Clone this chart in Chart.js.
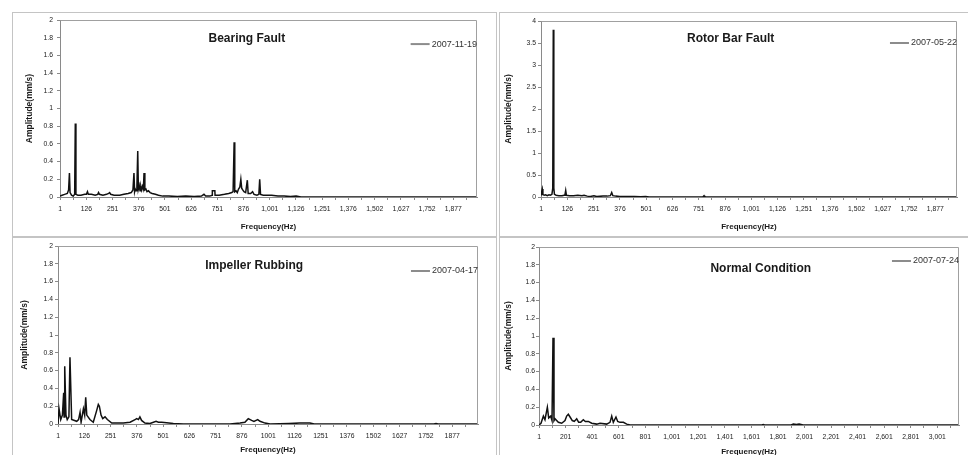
<!DOCTYPE html>
<html>
<head>
<meta charset="utf-8">
<script src="https://cdn.jsdelivr.net/npm/chart.js@4.4.1/dist/chart.umd.min.js"></script>
<style>
    html, body { margin: 0; padding: 0; background: #fff; }
    body { width: 968px; height: 455px; position: relative; overflow: hidden; }
    canvas { position: absolute; }
</style>
</head>
<body>
<canvas id="bearing"></canvas>
<canvas id="rotor"></canvas>
<canvas id="impeller"></canvas>
<canvas id="normal"></canvas>
<script>
//
// Spectrum data (frequency in Hz, amplitude in mm/s)
//

const bearingFreq = [0, 10, 22, 35, 41, 45, 48, 55, 63, 70, 73, 76, 85, 100, 118, 126, 131, 135, 150, 168,
    180, 184, 188, 205, 222, 232, 237, 242, 258, 285, 305, 325, 340, 348, 353, 356, 359, 363, 367, 371,
    374, 378, 382, 386, 390, 394, 398, 401, 405, 410, 415, 422, 430, 440, 455, 470, 490, 520, 560, 600,
    640, 675, 687, 695, 715, 726, 727, 739, 740, 760, 785, 805, 820, 826, 831, 834, 840, 846, 852, 858,
    863, 867, 872, 878, 886, 894, 898, 910, 919, 926, 940, 949, 953, 957, 970, 990, 1010, 1040, 1070, 1100,
    1127, 1150, 1990];
const bearingAmp = [0.01, 0.02, 0.03, 0.04, 0.08, 0.27, 0.05, 0.02, 0.01, 0.03, 0.83, 0.03, 0.02, 0.02, 0.03, 0.03, 0.06, 0.03, 0.03, 0.02,
    0.03, 0.05, 0.03, 0.02, 0.03, 0.04, 0.05, 0.03, 0.02, 0.02, 0.03, 0.04, 0.05, 0.08, 0.27, 0.06, 0.09, 0.07, 0.11, 0.52,
    0.09, 0.13, 0.07, 0.12, 0.08, 0.12, 0.09, 0.27, 0.08, 0.09, 0.06, 0.07, 0.05, 0.04, 0.03, 0.02, 0.01, 0.01, 0.005, 0.01,
    0.005, 0.01, 0.03, 0.01, 0.01, 0.02, 0.07, 0.07, 0.02, 0.02, 0.03, 0.04, 0.05, 0.06, 0.62, 0.06, 0.07, 0.05, 0.09, 0.11,
    0.2, 0.1, 0.08, 0.06, 0.05, 0.19, 0.04, 0.04, 0.06, 0.03, 0.02, 0.03, 0.2, 0.03, 0.02, 0.02, 0.02, 0.01, 0.01, 0.005,
    0.01, 0, 0];

const rotorFreq = [0, 3, 6, 9, 15, 22, 30, 38, 45, 52, 56, 58.5, 61, 64, 72, 85, 100, 110, 114, 117.6,
    121, 135, 155, 175, 195, 205, 220, 235, 252, 265, 295, 315, 330, 336.5, 342, 355, 375, 405, 445, 475,
    498, 515, 770, 776, 780, 1980];
const rotorAmp = [0.05, 0.12, 0.18, 0.06, 0.04, 0.05, 0.03, 0.05, 0.04, 0.06, 0.2, 3.8, 0.2, 0.06, 0.04, 0.03, 0.03, 0.04, 0.05, 0.15,
    0.04, 0.03, 0.03, 0.04, 0.03, 0.04, 0.02, 0.01, 0.03, 0.01, 0.02, 0.02, 0.03, 0.1, 0.03, 0.02, 0.01, 0.01, 0.01, 0.005,
    0.01, 0, 0, 0.03, 0, 0];

const impellerFreq = [0, 5, 13, 21, 27, 29, 32, 38, 44, 52, 57, 65, 89, 98, 105, 110, 121, 127, 132, 137,
    152, 168, 184, 192, 197, 205, 213, 224, 235, 256, 311, 343, 367, 375, 383, 390, 398, 414, 438, 467,
    478, 494, 517, 549, 597, 819, 867, 890, 906, 922, 933, 951, 962, 986, 1010, 1100, 1150, 1200, 1220, 1790,
    1800, 1810, 2000];
const impellerAmp = [0, 0.17, 0.05, 0.1, 0.35, 0.08, 0.65, 0.1, 0.05, 0.08, 0.75, 0.05, 0.03, 0.05, 0.13, 0.02, 0.17, 0.1, 0.3, 0.1,
    0.05, 0.02, 0.15, 0.22, 0.2, 0.1, 0.06, 0.08, 0.05, 0.01, 0.01, 0.02, 0.05, 0.06, 0.05, 0.08, 0.04, 0.01, 0.005, 0.03,
    0.02, 0.02, 0.015, 0.005, 0, 0, 0.01, 0.02, 0.06, 0.04, 0.03, 0.05, 0.03, 0.01, 0, 0.005, 0.01, 0.01, 0, 0,
    0.005, 0, 0];

const normalFreq = [0, 15, 33, 45, 63, 73, 88, 98, 105.5, 113, 120.6, 146, 171, 196, 208.5, 221, 234, 251, 266, 284,
    299, 314, 334, 349, 372, 397, 435, 460, 510, 535, 548, 560, 580, 593, 610, 636, 661, 686, 1680, 1690,
    1700, 1900, 1917, 1940, 1960, 1990, 3165];
const normalAmp = [0, 0.02, 0.1, 0.06, 0.2, 0.08, 0.1, 0.05, 0.98, 0.05, 0.07, 0.03, 0.02, 0.05, 0.1, 0.12, 0.09, 0.05, 0.04, 0.07,
    0.03, 0.03, 0.06, 0.04, 0.04, 0.02, 0.01, 0.02, 0.01, 0.03, 0.1, 0.03, 0.09, 0.04, 0.03, 0.03, 0.01, 0, 0, 0.005,
    0, 0, 0.01, 0.005, 0.01, 0, 0];

//
// Axis ticks
//

const freqTicks = [1, 126, 251, 376, 501, 626, 751, 876, 1001, 1126, 1251, 1376, 1502, 1627, 1752, 1877];
const freqLabels = ["1", "126", "251", "376", "501", "626", "751", "876", "1,001", "1,126", "1,251", "1,376", "1,502", "1,627", "1,752", "1,877"];
const freqLabelsPlain = ["1", "126", "251", "376", "501", "626", "751", "876", "1001", "1126", "1251", "1376", "1502", "1627", "1752", "1877"];
const normalTicks = [1, 201, 401, 601, 801, 1001, 1201, 1401, 1601, 1801, 2001, 2201, 2401, 2601, 2801, 3001];
const normalLabels = ["1", "201", "401", "601", "801", "1,001", "1,201", "1,401", "1,601", "1,801", "2,001", "2,201", "2,401", "2,601", "2,801", "3,001"];

const ampTicks2 = [0, 0.2, 0.4, 0.6, 0.8, 1, 1.2, 1.4, 1.6, 1.8, 2];
const ampLabels2 = ["0", "0.2", "0.4", "0.6", "0.8", "1", "1.2", "1.4", "1.6", "1.8", "2"];
const ampTicks4 = [0, 0.5, 1, 1.5, 2, 2.5, 3, 3.5, 4];
const ampLabels4 = ["0", "0.5", "1", "1.5", "2", "2.5", "3", "3.5", "4"];

//
// Look
//

const FONT = "'Liberation Sans', Arial, sans-serif";
const TEXT = "#222";
const AXIS = "#8a8a8a";
const LINE = "#111";

//
// Panel decoration plugin: panel border, plot frame, overlay title, legend, axis titles
//

const panelText = {
    id: "panelText",

    beforeDraw(chart) {
        const { ctx, width, height } = chart;
        ctx.save();
        ctx.fillStyle = "#fff";
        ctx.fillRect(0, 0, width, height);
        ctx.strokeStyle = "#c4c4c4";
        ctx.lineWidth = 1;
        ctx.strokeRect(0.5, 0.5, width - 1, height - 1);
        ctx.restore();
    },

    afterDraw(chart, args, opts) {
        const { ctx, chartArea: { left, top, right, bottom } } = chart;
        ctx.save();

        // top and right edges of the plot frame
        ctx.strokeStyle = "#a0a0a0";
        ctx.lineWidth = 1;
        ctx.beginPath();
        ctx.moveTo(Math.round(left) + 0.5, Math.round(top) + 0.5);
        ctx.lineTo(Math.round(right) - 0.5, Math.round(top) + 0.5);
        ctx.lineTo(Math.round(right) - 0.5, Math.round(bottom));
        ctx.stroke();

        // title inside plot
        ctx.fillStyle = "#1a1a1a";
        ctx.font = "bold 12px " + FONT;
        ctx.textAlign = "center";
        ctx.textBaseline = "middle";
        ctx.fillText(opts.title, left + opts.titleX * (right - left), top + opts.titleY);

        // legend
        ctx.font = "9px " + FONT;
        ctx.textAlign = "right";
        ctx.fillStyle = "#333";
        ctx.fillText(opts.date, right, top + opts.legendY);
        const w = ctx.measureText(opts.date).width;
        ctx.strokeStyle = "#8c8c8c";
        ctx.lineWidth = 2;
        ctx.beginPath();
        ctx.moveTo(right - w - 21, top + opts.legendY);
        ctx.lineTo(right - w - 2, top + opts.legendY);
        ctx.stroke();

        // axis titles
        ctx.fillStyle = "#1a1a1a";
        ctx.font = "bold 8px " + FONT;
        ctx.textAlign = "center";
        ctx.fillText("Frequency(Hz)", (left + right) / 2, bottom + opts.xTitleY);

        ctx.translate(opts.yTitleX, (top + bottom) / 2);
        ctx.rotate(-Math.PI / 2);
        ctx.font = "bold 8.5px " + FONT;
        ctx.fillText("Amplitude(mm/s)", 0, 0);

        ctx.restore();
    }
};

//
// Panels
//

const panels = [
    {
        canvasId: "bearing", title: "Bearing Fault", date: "2007-11-19",
        freq: bearingFreq, amp: bearingAmp,
        xMax: 1990, xTicks: freqTicks, xLabels: freqLabels,
        yMax: 2, yTicks: ampTicks2, yLabels: ampLabels2, yPad: 4,
        box: { left: 12, top: 12, width: 485, height: 225 },
        area: { left: 60, top: 19, right: 477, bottom: 197 },
        titleX: 0.448, titleY: 19, legendY: 24, yTitleX: 18, xTitleY: 30
    },
    {
        canvasId: "rotor", title: "Rotor Bar Fault", date: "2007-05-22",
        freq: rotorFreq, amp: rotorAmp,
        xMax: 1980, xTicks: freqTicks, xLabels: freqLabels,
        yMax: 4, yTicks: ampTicks4, yLabels: ampLabels4, yPad: 2,
        box: { left: 499, top: 12, width: 470, height: 225 },
        area: { left: 541, top: 21, right: 957, bottom: 197 },
        titleX: 0.456, titleY: 18, legendY: 22, yTitleX: 10, xTitleY: 30
    },
    {
        canvasId: "impeller", title: "Impeller Rubbing", date: "2007-04-17",
        freq: impellerFreq, amp: impellerAmp,
        xMax: 2000, xTicks: freqTicks, xLabels: freqLabelsPlain,
        yMax: 2, yTicks: ampTicks2, yLabels: ampLabels2, yPad: 2,
        box: { left: 12, top: 237, width: 485, height: 220 },
        area: { left: 58, top: 246, right: 478, bottom: 424 },
        titleX: 0.467, titleY: 20, legendY: 25, yTitleX: 13, xTitleY: 26
    },
    {
        canvasId: "normal", title: "Normal Condition", date: "2007-07-24",
        freq: normalFreq, amp: normalAmp,
        xMax: 3165, xTicks: normalTicks, xLabels: normalLabels,
        yMax: 2, yTicks: ampTicks2, yLabels: ampLabels2, yPad: 1,
        box: { left: 499, top: 237, width: 470, height: 220 },
        area: { left: 539, top: 247, right: 959, bottom: 425 },
        titleX: 0.528, titleY: 22, legendY: 14, yTitleX: 10, xTitleY: 27
    }
];

function makeChart(p) {

    const canvas = document.getElementById(p.canvasId);
    canvas.width = p.box.width;
    canvas.height = p.box.height;
    canvas.style.left = p.box.left + "px";
    canvas.style.top = p.box.top + "px";

    const yWidth = p.area.left - p.box.left;
    const xHeight = p.box.top + p.box.height - p.area.bottom;

    // minor tick marks halfway between the labelled ones
    const step = p.xTicks[1] - p.xTicks[0];
    const minor = p.xTicks.map(v => v + step / 2).filter(v => v < p.xMax);
    const xAll = [...p.xTicks, ...minor].sort((a, b) => a - b);
    const labelOf = new Map(p.xTicks.map((v, i) => [v, p.xLabels[i]]));

    return new Chart(canvas, {
        type: "line",
        data: {
            datasets: [{
                label: p.date,
                data: p.freq.map((f, i) => ({ x: f, y: p.amp[i] })),
                borderColor: LINE,
                borderWidth: 1.5,
                pointRadius: 0,
                tension: 0
            }]
        },
        options: {
            responsive: false,
            animation: false,
            devicePixelRatio: 1,
            layout: {
                padding: {
                    left: 0,
                    top: p.area.top - p.box.top,
                    right: p.box.left + p.box.width - p.area.right,
                    bottom: 0
                }
            },
            plugins: {
                legend: { display: false },
                tooltip: { enabled: false },
                panelText: {
                    title: p.title, date: p.date,
                    titleX: p.titleX, titleY: p.titleY,
                    legendY: p.legendY, yTitleX: p.yTitleX, xTitleY: p.xTitleY
                }
            },
            scales: {
                x: {
                    type: "linear",
                    min: 0,
                    max: p.xMax,
                    afterBuildTicks: s => { s.ticks = xAll.map(v => ({ value: v })); },
                    afterFit: s => { s.height = xHeight; },
                    ticks: {
                        autoSkip: false,
                        maxRotation: 0,
                        minRotation: 0,
                        padding: 5,
                        color: TEXT,
                        font: { family: FONT, size: 6.8 },
                        callback: v => labelOf.get(v) ?? ""
                    },
                    grid: { drawOnChartArea: false, tickLength: 3, color: AXIS },
                    border: { color: AXIS }
                },
                y: {
                    type: "linear",
                    min: 0,
                    max: p.yMax,
                    afterBuildTicks: s => { s.ticks = p.yTicks.map(v => ({ value: v })); },
                    afterFit: s => { s.width = yWidth; },
                    ticks: {
                        padding: p.yPad,
                        color: TEXT,
                        font: { family: FONT, size: 6.8 },
                        callback: (v, i) => p.yLabels[i]
                    },
                    grid: { drawOnChartArea: false, tickLength: 3, color: AXIS },
                    border: { color: AXIS }
                }
            }
        },
        plugins: [panelText]
    });
}

panels.forEach(makeChart);
</script>
</body>
</html>
